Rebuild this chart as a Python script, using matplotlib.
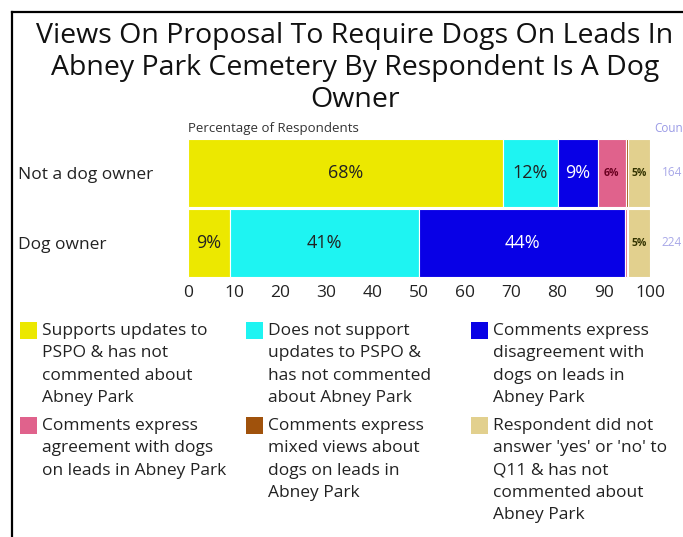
import matplotlib
matplotlib.use('Agg')
import matplotlib.pyplot as plt
from matplotlib.patches import Rectangle
import numpy as np

plt.rcParams['font.family'] = ['Open Sans', 'DejaVu Sans']

# data
rows = ['Dog owner', 'Not a dog owner']
counts = [224, 164]
categories = ['Supports updates to\nPSPO & has not\ncommented about\nAbney Park',
              'Does not support\nupdates to PSPO &\nhas not commented\nabout Abney Park',
              'Comments express\ndisagreement with\ndogs on leads in\nAbney Park',
              'Comments express\nagreement with dogs\non leads in Abney Park',
              'Comments express\nmixed views about\ndogs on leads in\nAbney Park',
              "Respondent did not\nanswer 'yes' or 'no' to\nQ11 & has not\ncommented about\nAbney Park"]
colors = ['#ECE800', '#1EF4F2', '#0800E6', '#E0628C', '#A0520C', '#E2D08E']
# percentages per category, order matches rows
values = [[9.1, 68.1],
          [40.9, 11.9],
          [44.6, 8.7],
          [0.4, 6.0],
          [0.3, 0.6],
          [4.7, 4.7]]
labels = [['9%', '68%'],
          ['41%', '12%'],
          ['44%', '9%'],
          ['', '6%'],
          ['', ''],
          ['5%', '5%']]
label_colors = ['#222222', '#222222', 'white', '#6a0020', 'white', '#333300']
label_sizes = [13, 13, 13, 7.5, 7.5, 7.5]

W, H = 683, 537
fig = plt.figure(figsize=(W / 100, H / 100), dpi=100)

def fx(px):
    return px / W

def fy(py):
    return 1 - py / H

# frame lines
fig.add_artist(plt.Line2D([fx(12), fx(12)], [fy(12), 0], color='black', lw=1.6))
fig.add_artist(plt.Line2D([fx(12), 1], [fy(12), fy(12)], color='black', lw=1.6))

fig.text(fx(355), fy(68), 'Views On Proposal To Require Dogs On Leads In\n'
         'Abney Park Cemetery By Respondent Is A Dog\nOwner',
         ha='center', va='center', fontsize=20.5, color='#111111', linespacing=1.19)

ax = fig.add_axes([fx(188), fy(278), fx(650) - fx(188), (278 - 138) / H])
y = np.arange(len(rows))
left = np.zeros(len(rows))
for i in range(len(categories)):
    bars = ax.barh(y, values[i], left=left, height=0.97, color=colors[i],
                   edgecolor='white', linewidth=0.8)
    for j, b in enumerate(bars):
        if labels[i][j]:
            weight = 'bold' if label_sizes[i] < 10 else 'normal'
            ax.text(b.get_x() + b.get_width() / 2, b.get_y() + b.get_height() / 2,
                    labels[i][j], ha='center', va='center', fontsize=label_sizes[i],
                    color=label_colors[i], fontweight=weight)
    left += np.array(values[i])

ax.set_xlim(0, 100)
ax.set_ylim(-0.5, 1.5)
ax.set_xticks(np.arange(0, 101, 10))
ax.set_yticks(y)
ax.set_yticklabels(rows)
ax.tick_params(axis='x', length=0, labelsize=12.5, labelcolor='#222222', pad=5)
ax.tick_params(axis='y', length=0, labelsize=12.5, labelcolor='#222222', pad=0)
for lab in ax.get_yticklabels():
    lab.set_horizontalalignment('left')
    lab.set_x(-(188 - 18) / (650 - 188))
for s in ax.spines.values():
    s.set_visible(False)

ax.text(0, 1.02, 'Percentage of Respondents', transform=ax.transAxes,
        fontsize=9.5, color='#333333', ha='left', va='bottom')
ax.text(1.01, 1.02, 'Count', transform=ax.transAxes, fontsize=8.5,
        color='#9a9ae6', ha='left', va='bottom')
for j in range(len(rows)):
    ax.text(102.5, y[j], str(counts[j]), fontsize=8.5, color='#a8a8e8',
            ha='left', va='center', clip_on=False)

# legend drawn by hand, 3 columns x 2 rows
col_x = [20, 246, 471]
row_y = [322, 417]
for k, cat in enumerate(categories):
    cx = col_x[k % 3]
    ry = row_y[k // 3]
    fig.add_artist(Rectangle((fx(cx), fy(ry + 17)), 17 / W, 17 / H,
                             facecolor=colors[k], edgecolor='none'))
    fig.text(fx(cx + 22), fy(ry + 1), cat, ha='left', va='top', fontsize=12.5,
             color='#222222', linespacing=1.53)

fig.savefig('out.png', dpi=100)
